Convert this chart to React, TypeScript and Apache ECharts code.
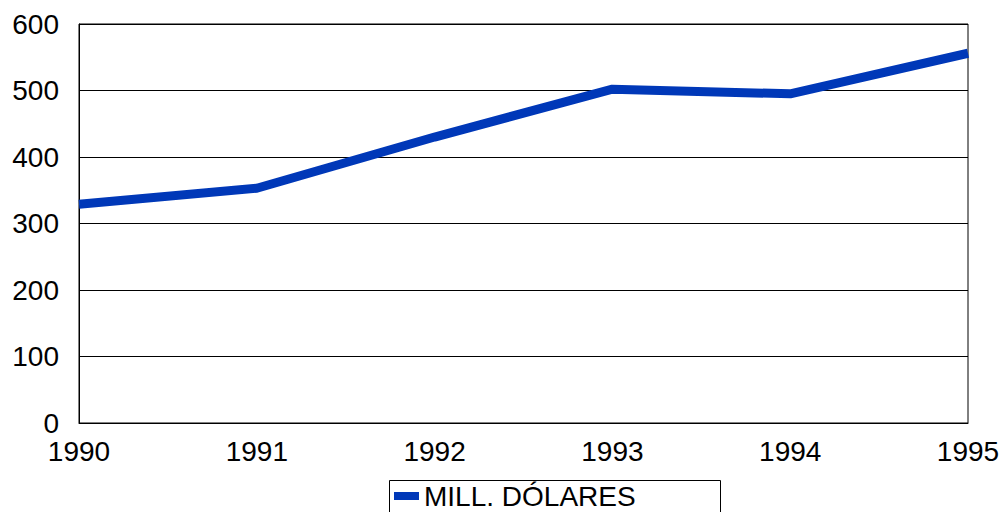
import React, { useEffect, useRef } from "react";
import * as echarts from "echarts";

const years = ["1990", "1991", "1992", "1993", "1994", "1995"];
const values = [329, 353, 430, 502, 495, 556];
const seriesName = "MILL. DÓLARES";
const yTicks = { min: 0, max: 600, interval: 100 };

export default function App() {
  const ref = useRef<HTMLDivElement>(null);
  useEffect(() => {
    const chart = echarts.init(ref.current!, null, { renderer: "svg" });
    const font = "'Liberation Sans', Arial, sans-serif";
    chart.setOption({
      animation: false,
      backgroundColor: "#ffffff",
      grid: {
        left: 79,
        right: 35,
        top: 24,
        bottom: 89,
        show: true,
        borderColor: "#000000",
        borderWidth: 1,
      },
      xAxis: {
        type: "category",
        data: years,
        boundaryGap: false,
        axisLine: { show: true, lineStyle: { color: "#000", width: 1 } },
        axisTick: { show: false },
        axisLabel: { color: "#000", fontSize: 28, fontFamily: font, margin: 14 },
        splitLine: { show: false },
      },
      yAxis: {
        type: "value",
        min: yTicks.min,
        max: yTicks.max,
        interval: yTicks.interval,
        axisLine: { show: true, lineStyle: { color: "#000", width: 1 } },
        axisTick: { show: false },
        axisLabel: { color: "#000", fontSize: 28, fontFamily: font, margin: 20 },
        splitLine: { show: true, lineStyle: { color: "#000", width: 1 } },
      },
      legend: {
        show: true,
        left: 394,
        top: 482,
        padding: 0,
        icon: "rect",
        itemWidth: 25,
        itemHeight: 8,
        itemGap: 4,
        textStyle: { color: "#000", fontSize: 28, fontFamily: font },
        data: [seriesName],
      },
      graphic: [
        {
          type: "rect",
          left: 387,
          top: 478,
          shape: { width: 331, height: 60 },
          style: { fill: "none", stroke: "#000", lineWidth: 1 },
          silent: true,
          z: -1,
        },
      ],
      series: [
        {
          name: seriesName,
          type: "line",
          data: values,
          symbol: "none",
          lineStyle: { color: "#0038B8", width: 9 },
          itemStyle: { color: "#0038B8" },
        },
      ],
    });
    return () => chart.dispose();
  }, []);
  return (
    <div
      ref={ref}
      style={{ position: "fixed", left: 0, top: 0, width: 1003, height: 512 }}
    />
  );
}
